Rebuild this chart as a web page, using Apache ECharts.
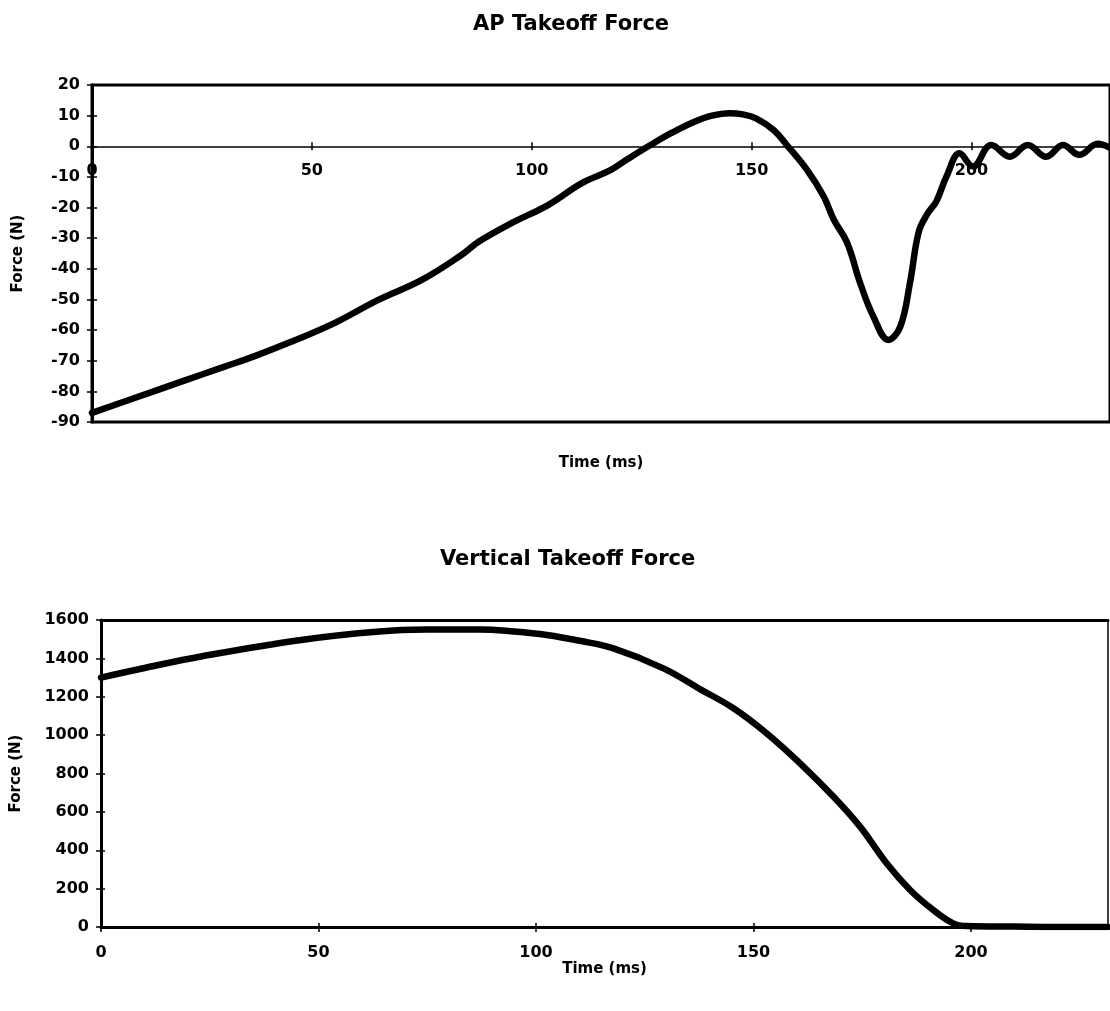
<!DOCTYPE html>
<html>
<head>
<meta charset="utf-8">
<title>Takeoff Force</title>
<script src="https://cdn.jsdelivr.net/npm/echarts@6/dist/echarts.min.js"></script>
<style>
  html, body { margin: 0; padding: 0; background: #ffffff; }
  #chart { width: 1110px; height: 1011px; }
</style>
</head>
<body>
<div id="chart"></div>
<script>
// Anterior-posterior takeoff force: time (ms) and force (N)
const apTime = [0, 10, 20, 30, 37, 45, 55, 65, 75, 84, 88, 95.4, 103.7, 111.3, 118, 122, 127, 132, 137, 141, 145, 148, 151, 155, 158, 162.6, 166.4, 168.7, 171.7, 174.7, 177.7, 181.1, 183.8, 186, 188, 190, 192, 194.3, 197.3, 200.3, 204.5, 208.7, 212.8, 217, 220.8, 224.5, 228.7, 231.5];
const apForce = [-87, -82, -77, -72, -68.5, -64, -57.8, -50.2, -43.6, -35.5, -31.1, -25.1, -19.2, -12.1, -7.7, -4, 0.4, 4.5, 8, 10, 10.8, 10.4, 9.1, 5.3, 0.4, -7.7, -16.4, -24, -31.4, -44.7, -55.6, -63.2, -58.9, -44.7, -28, -22, -18, -9.9, -2.3, -6.6, 0.4, -3.4, 0.4, -3.4, 0.4, -2.8, 0.8, -0.5];

// Vertical takeoff force: time (ms) and force (N)
const vtTime = [0, 10, 23, 46, 64, 75, 87, 95, 102.5, 110, 117.8, 129.3, 137.7, 145.4, 153, 160.7, 168.4, 174.5, 180.6, 186, 191.3, 195.9, 199, 210, 220, 231.5];
const vtForce = [1300, 1350, 1410, 1496, 1540, 1550, 1551, 1540, 1522, 1492, 1452, 1348, 1240, 1140, 1010, 853, 679, 523, 332, 193, 89, 19, 5, 2, 0, 0];

// Axis ticks
const timeTicks = [0, 50, 100, 150, 200];
const timeMax = 231.5;
const apTicks = { min: -90, max: 20, step: 10 };
const vtTicks = { min: 0, max: 1600, step: 200 };

const titles = ['AP Takeoff Force', 'Vertical Takeoff Force'];
const timeName = 'Time (ms)';
const forceName = 'Force (N)';

const FONT = 'DejaVu Sans';
const black = '#000000';
const pairs = (xs, ys) => xs.map((x, i) => [x, ys[i]]);
const plain = (v) => String(v);

// plot boxes
const apBox = { left: 92, top: 85, width: timeMax * 4.415, height: 337 };
const vtBox = { left: 101, top: 620, width: 1007, height: 307 };
// the AP time axis runs along force = 0, inside its plot box
const apZeroOffset = -apBox.height * (0 - apTicks.min) / (apTicks.max - apTicks.min);

const labelStyle = { color: black, fontFamily: FONT, fontWeight: 'bold', fontSize: 16, formatter: plain };
const nameStyle = { color: black, fontFamily: FONT, fontWeight: 'bold', fontSize: 15 };

function timeAxis(grid, extra) {
  return Object.assign({
    type: 'value', gridIndex: grid, min: 0, max: timeMax, interval: 50,
    splitLine: { show: false },
    axisLine: { show: false, onZero: false },
    axisTick: { show: false },
    axisLabel: { show: false }
  }, extra);
}

function forceAxis(grid, range, extra) {
  return Object.assign({
    type: 'value', gridIndex: grid, min: range.min, max: range.max, interval: range.step,
    splitLine: { show: false },
    axisLine: { show: false, onZero: false },
    axisTick: { show: false },
    axisLabel: { show: false }
  }, extra);
}

const chart = echarts.init(document.getElementById('chart'), null, { renderer: 'canvas' });

chart.setOption({
  backgroundColor: '#ffffff',
  animation: false,
  title: [
    { text: titles[0], left: 468, top: 9, textStyle: { color: black, fontFamily: FONT, fontWeight: 'bold', fontSize: 21 } },
    { text: titles[1], left: 435, top: 544, textStyle: { color: black, fontFamily: FONT, fontWeight: 'bold', fontSize: 21 } }
  ],
  grid: [
    Object.assign({ show: true, borderColor: black, borderWidth: 3, backgroundColor: 'transparent' }, apBox),
    vtBox
  ],
  xAxis: [
    // top chart: time axis along force = 0
    timeAxis(0, {
      position: 'bottom', offset: apZeroOffset,
      axisLine: { show: true, onZero: false, lineStyle: { color: black, width: 1.5 } },
      axisTick: { show: true, length: 4, customValues: timeTicks, lineStyle: { color: black, width: 1.5 } },
      axisLabel: Object.assign({ show: true, margin: 17, customValues: timeTicks }, labelStyle)
    }),
    timeAxis(0, {
      position: 'bottom', offset: apZeroOffset,
      axisTick: { show: true, inside: true, length: 4, customValues: timeTicks, lineStyle: { color: black, width: 1.5 } }
    }),
    timeAxis(0, {
      position: 'bottom', name: timeName, nameLocation: 'middle', nameGap: 34, nameTextStyle: nameStyle
    }),
    // bottom chart
    timeAxis(1, {
      position: 'bottom', name: timeName, nameLocation: 'middle', nameGap: 28, nameTextStyle: nameStyle,
      axisLine: { show: true, onZero: false, lineStyle: { color: black, width: 3 } },
      axisTick: { show: true, length: 5, customValues: timeTicks, lineStyle: { color: black, width: 1.5 } },
      axisLabel: Object.assign({ show: true, margin: 18, customValues: timeTicks }, labelStyle)
    }),
    timeAxis(1, {
      position: 'bottom',
      axisTick: { show: true, inside: true, length: 4, customValues: timeTicks, lineStyle: { color: black, width: 1.5 } }
    }),
    timeAxis(1, {
      position: 'top',
      axisLine: { show: true, onZero: false, lineStyle: { color: black, width: 3 } }
    })
  ],
  yAxis: [
    // top chart
    forceAxis(0, apTicks, {
      position: 'left', name: forceName, nameLocation: 'middle', nameGap: 66, nameRotate: 90, nameTextStyle: nameStyle,
      axisLine: { show: true, onZero: false, lineStyle: { color: black, width: 3 } },
      axisTick: { show: true, length: 5, lineStyle: { color: black, width: 1.5 } },
      axisLabel: Object.assign({ show: true, margin: 12 }, labelStyle)
    }),
    forceAxis(0, apTicks, {
      position: 'left',
      axisTick: { show: true, inside: true, length: 5, lineStyle: { color: black, width: 1.5 } }
    }),
    // bottom chart
    forceAxis(1, vtTicks, {
      position: 'left', name: forceName, nameLocation: 'middle', nameGap: 77, nameRotate: 90, nameTextStyle: nameStyle,
      axisLine: { show: true, onZero: false, lineStyle: { color: black, width: 3 } },
      axisTick: { show: true, length: 5, lineStyle: { color: black, width: 1.5 } },
      axisLabel: Object.assign({ show: true, margin: 12 }, labelStyle)
    }),
    forceAxis(1, vtTicks, {
      position: 'left',
      axisTick: { show: true, inside: true, length: 4, lineStyle: { color: black, width: 1.5 } }
    }),
    forceAxis(1, vtTicks, {
      position: 'right',
      axisLine: { show: true, onZero: false, lineStyle: { color: black, width: 1.5 } }
    })
  ],
  series: [
    {
      type: 'line', name: titles[0], xAxisIndex: 0, yAxisIndex: 0,
      data: pairs(apTime, apForce),
      showSymbol: false, smooth: 0.4,
      lineStyle: { color: black, width: 6.5, cap: 'round', join: 'round' },
      clip: true
    },
    {
      type: 'line', name: titles[1], xAxisIndex: 3, yAxisIndex: 2,
      data: pairs(vtTime, vtForce),
      showSymbol: false, smooth: 0.4,
      lineStyle: { color: black, width: 6.5, cap: 'round', join: 'round' },
      clip: true
    }
  ]
});
</script>
</body>
</html>
